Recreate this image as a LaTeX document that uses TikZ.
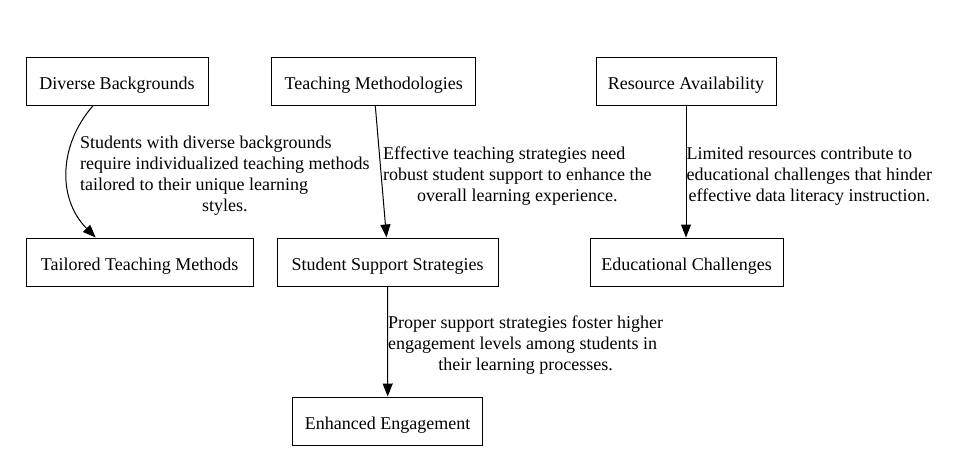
\documentclass[tikz,border=0pt]{standalone}
\usepackage{fontspec}
\setmainfont{Liberation Serif}
\usetikzlibrary{arrows.meta,calc}
\begin{document}
\begin{tikzpicture}[x=1pt,y=-1pt,
  txt/.style={font=\fontsize{18}{21}\selectfont},
  box/.style={txt,draw,line width=1pt,minimum height=47.5pt,inner sep=0pt,text height=17pt,text depth=1pt},
  lbl/.style={txt,anchor=north west,inner sep=0pt},
  link/.style={draw,line width=1pt,-{Triangle[length=13pt,width=10pt]}}]
\useasboundingbox (0,0) rectangle (961,472);

% top row
\node[box,minimum width=182pt] (div) at (117,81.5) {Diverse Backgrounds};
\node[box,minimum width=204pt] (tm)  at (373.8,81.5) {Teaching Methodologies};
\node[box,minimum width=180pt] (res) at (686,81.5) {Resource Availability};

% middle row
\node[box,minimum width=227pt,minimum height=48pt] (tail) at (139.7,262) {Tailored Teaching Methods};
\node[box,minimum width=221pt,minimum height=48pt] (ssup) at (387.5,262) {Student Support Strategies};
\node[box,minimum width=193pt,minimum height=48pt] (edu)  at (686.5,262) {Educational Challenges};

% bottom row
\node[box,minimum width=190pt,minimum height=48pt] (eng) at (387.7,421) {Enhanced Engagement};

% connectors
\draw[link] ($(div.south)+(-24,0)$) .. controls ($(div.south)+(-59,40)$) and ($(tail.north)+(-82,-38)$) .. ($(tail.north)+(-44,0)$);
\draw[link] ($(tm.south)+(1.5,0)$) -- ($(ssup.north)+(-1,0)$);
\draw[link] (res.south) -- (edu.north -| res.south);
\draw[link] (ssup.south) -- (eng.north);

% connector labels
\node[lbl] (l1) at (80,134) {\begin{tabular}{@{}l@{}}Students with diverse backgrounds\\require individualized teaching methods\\tailored to their unique learning\\\multicolumn{1}{@{}c@{}}{styles.}\end{tabular}};
\node[lbl] (l2) at (383,144.5) {\begin{tabular}{@{}l@{}}Effective teaching strategies need\\robust student support to enhance the\\\multicolumn{1}{@{}c@{}}{overall learning experience.}\end{tabular}};
\node[lbl] (l3) at (686.5,144.5) {\begin{tabular}{@{}l@{}}Limited resources contribute to\\educational challenges that hinder\\\multicolumn{1}{@{}c@{}}{effective data literacy instruction.}\end{tabular}};
\node[lbl] (l4) at (388,314) {\begin{tabular}{@{}l@{}}Proper support strategies foster higher\\engagement levels among students in\\\multicolumn{1}{@{}c@{}}{their learning processes.}\end{tabular}};
\end{tikzpicture}
\end{document}
